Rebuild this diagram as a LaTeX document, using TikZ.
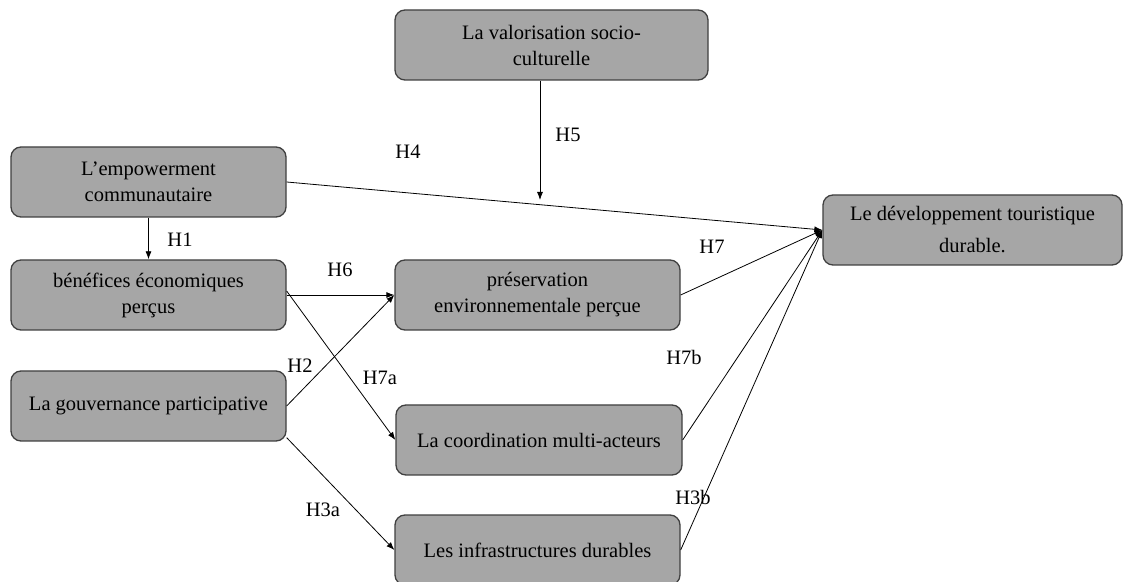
\documentclass[tikz,border=0pt]{standalone}
\usepackage{fontspec}
\setmainfont{Liberation Serif}
\usetikzlibrary{arrows.meta,calc}
\definecolor{boxfill}{HTML}{A6A6A6}
\definecolor{boxline}{HTML}{404040}
\begin{document}
\begin{tikzpicture}[x=1pt,y=1pt,
  box/.style={draw=boxline, line width=1.3pt, fill=boxfill, rounded corners=10pt,
    minimum height=70pt, inner sep=0pt, align=center,
    font=\fontsize{20.5}{26}\selectfont},
  conn/.style={draw=black, line width=0.8pt, -{Latex[length=8pt,width=6pt]}},
  lab/.style={font=\fontsize{20.5}{24}\selectfont, inner sep=0pt}]
\useasboundingbox (0,0) rectangle (1124,581);
\clip (0,0) rectangle (1124,581);
\fill[white] (0,0) rectangle (1124,581);
% boxes
\node[box, minimum width=313pt] (val) at (551.5,536) {La valorisation socio-\\culturelle};
\node[box, minimum width=275pt] (emp) at (148.5,399) {L’empowerment\\communautaire};
\node[box, minimum width=275pt] (ben) at (148.5,286) {bénéfices économiques\\perçus};
\node[box, minimum width=275pt] (gov) at (148.5,175) {La gouvernance participative};
\node[box, minimum width=285pt] (pres) at (537.5,286) {préservation\\environnementale perçue};
\node[box, minimum width=286pt] (coord) at (539,141) {La coordination multi-acteurs};
\node[box, minimum width=285pt] (infra) at (537.5,31) {Les infrastructures durables};
\node[box, minimum width=299pt, font=\fontsize{20.5}{32}\selectfont] (dev) at (972.5,351) {\raisebox{-3pt}{Le développement touristique}\\\raisebox{-3pt}{durable.}};
% connectors
\coordinate (h5e) at (540,381);
\draw[conn] (emp.south) -- (ben.north);
\draw[conn] (emp.east) -- (dev.west);
\draw[conn] (val.south -| h5e) -- (h5e);
\draw[conn] (ben.east) -- (pres.west);
\draw[conn] ([yshift=4pt]ben.east) -- (coord.west);
\draw[conn] (gov.east) -- (pres.west);
\draw[conn] ([yshift=4pt]gov.south east) -- (infra.west);
\draw[conn] (pres.east) -- (dev.west);
\draw[conn] (coord.east) -- (dev.west);
\draw[conn] (infra.east) -- (dev.west);
% labels
\node[lab] (l1) at (180,341) {H1};
\node[lab] (l4) at (408,429) {H4};
\node[lab] (l5) at (568,446) {H5};
\node[lab] (l6) at (340,311) {H6};
\node[lab] (l7a) at (380,203) {H7a};
\node[lab] (l2) at (300,215) {H2};
\node[lab] (l3a) at (323,71) {H3a};
\node[lab] (l7) at (712,334) {H7};
\node[lab] (l7b) at (684,224) {H7b};
\node[lab] (l3b) at (693,84) {H3b};
\end{tikzpicture}
\end{document}
